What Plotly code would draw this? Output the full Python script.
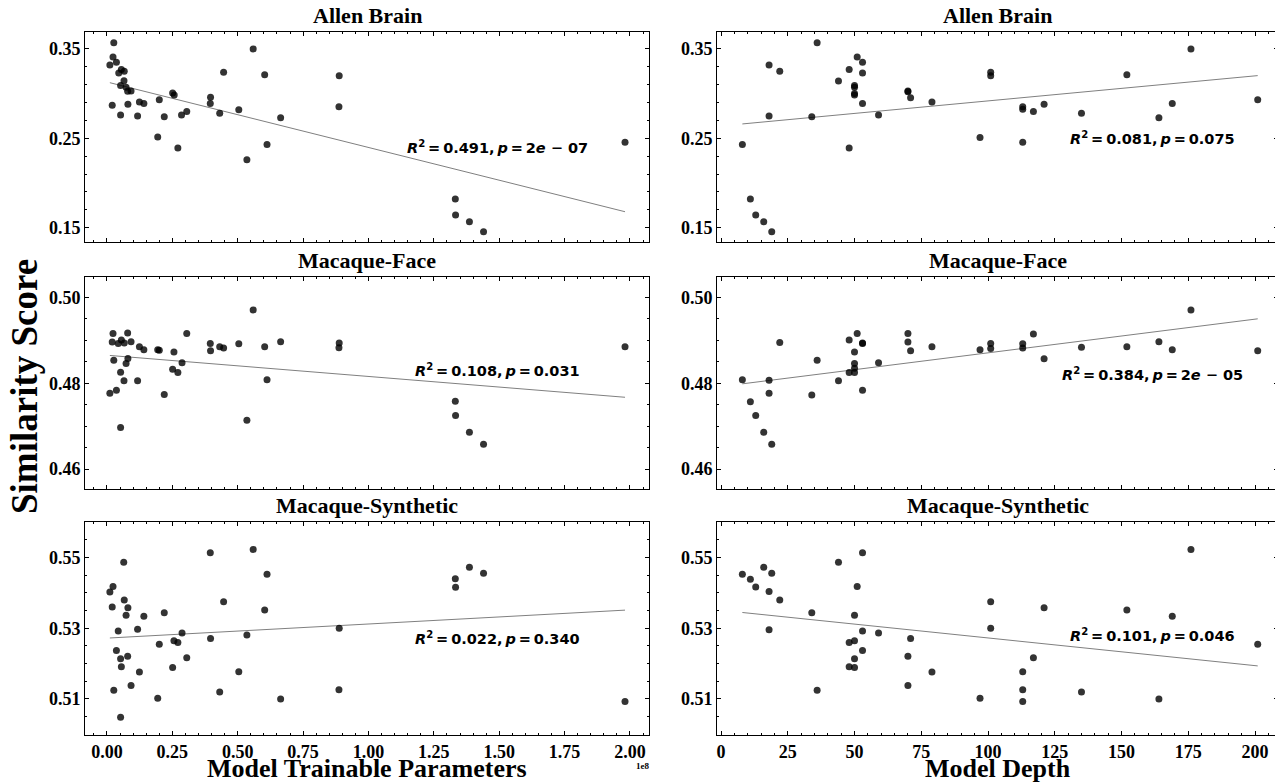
import numpy as np
import plotly.graph_objects as go

# ---------------- data ----------------
panel_titles = ["Allen Brain", "Allen Brain", "Macaque-Face", "Macaque-Face",
                "Macaque-Synthetic", "Macaque-Synthetic"]

# Model trainable parameters (units of 1e8)
allen_params_x = [0.026, 0.023, 0.011, 0.036, 0.055, 0.066, 0.045, 0.065, 0.052, 0.073, 0.079, 0.092,
                  0.020, 0.052, 0.080, 0.117, 0.124, 0.141, 0.194, 0.200, 0.219, 0.251, 0.257, 0.271,
                  0.285, 0.305, 0.396, 0.395, 0.446, 0.431, 0.504, 0.535, 0.559, 0.603, 0.612, 0.664,
                  0.888, 0.887, 1.332, 1.333, 1.386, 1.440, 1.981]
allen_params_y = [0.357, 0.341, 0.332, 0.335, 0.327, 0.325, 0.323, 0.3145, 0.309, 0.307, 0.3026, 0.303,
                  0.287, 0.276, 0.288, 0.275, 0.2907, 0.2888, 0.2515, 0.293, 0.274, 0.3007, 0.2985, 0.239,
                  0.276, 0.280, 0.296, 0.289, 0.324, 0.278, 0.282, 0.226, 0.350, 0.321, 0.243, 0.273,
                  0.320, 0.2854, 0.182, 0.164, 0.1566, 0.1454, 0.2455]

allen_depth_x = [36, 18, 22, 44, 48, 51, 53, 53, 50, 50, 50, 50, 53, 59, 48, 34, 18, 8, 11, 13, 16, 19,
                 70, 70, 71, 79, 97, 101, 101, 113, 113, 117, 121, 135, 113, 152, 164, 169, 176, 201]
allen_depth_y = [0.357, 0.332, 0.325, 0.314, 0.327, 0.341, 0.335, 0.323, 0.309, 0.307, 0.300, 0.2985,
                 0.289, 0.276, 0.239, 0.274, 0.275, 0.243, 0.182, 0.164, 0.1566, 0.1454, 0.303, 0.302,
                 0.2955, 0.2907, 0.251, 0.324, 0.320, 0.2854, 0.2825, 0.280, 0.288, 0.278, 0.2455,
                 0.321, 0.273, 0.289, 0.350, 0.293]

face_params_x = [0.023, 0.020, 0.026, 0.011, 0.036, 0.043, 0.055, 0.066, 0.079, 0.092, 0.080, 0.073,
                 0.052, 0.065, 0.052, 0.117, 0.124, 0.141, 0.194, 0.200, 0.219, 0.251, 0.256, 0.271,
                 0.287, 0.305, 0.395, 0.396, 0.431, 0.446, 0.504, 0.535, 0.559, 0.603, 0.612, 0.664,
                 0.888, 0.887, 1.332, 1.333, 1.386, 1.440, 1.981]
face_params_y = [0.4916, 0.4896, 0.4854, 0.4777, 0.4784, 0.4893, 0.4901, 0.4894, 0.4917, 0.4897, 0.4858,
                 0.4846, 0.4826, 0.4806, 0.4697, 0.4806, 0.4885, 0.4878, 0.4878, 0.4877, 0.4774, 0.4833,
                 0.4873, 0.4825, 0.4848, 0.4916, 0.4893, 0.4876, 0.4885, 0.4882, 0.4892, 0.4714, 0.4971,
                 0.4885, 0.4808, 0.4897, 0.4894, 0.4883, 0.4758, 0.4725, 0.4686, 0.4658, 0.4885]

face_depth_x = [8, 11, 13, 16, 19, 18, 18, 22, 34, 36, 44, 48, 48, 50, 50, 50, 50, 51, 53, 53, 53, 59,
                70, 70, 71, 79, 97, 101, 101, 113, 113, 117, 121, 135, 152, 164, 169, 176, 201]
face_depth_y = [0.4808, 0.4757, 0.4725, 0.4686, 0.4658, 0.4807, 0.4777, 0.4895, 0.4773, 0.4854, 0.4806,
                0.4901, 0.4825, 0.4825, 0.4835, 0.4846, 0.4873, 0.4916, 0.4894, 0.4893, 0.4784, 0.4848,
                0.4916, 0.4896, 0.4876, 0.4885, 0.4878, 0.4893, 0.4881, 0.4892, 0.4882, 0.4915, 0.4857,
                0.4884, 0.4885, 0.4897, 0.4878, 0.4971, 0.4876]

synth_params_x = [0.011, 0.023, 0.020, 0.064, 0.066, 0.080, 0.073, 0.141, 0.043, 0.117, 0.036, 0.052,
                  0.079, 0.055, 0.026, 0.092, 0.052, 0.124, 0.194, 0.200, 0.219, 0.251, 0.256, 0.271,
                  0.287, 0.305, 0.395, 0.396, 0.431, 0.446, 0.504, 0.535, 0.559, 0.603, 0.612, 0.664,
                  0.888, 0.887, 1.332, 1.333, 1.386, 1.440, 1.981]
synth_params_y = [0.5403, 0.5418, 0.5360, 0.5487, 0.5380, 0.5358, 0.5337, 0.5334, 0.5292, 0.5297, 0.5237,
                  0.5214, 0.5221, 0.5191, 0.5125, 0.5138, 0.5048, 0.5176, 0.5102, 0.5255, 0.5344, 0.5189,
                  0.5265, 0.5260, 0.5287, 0.5217, 0.5514, 0.5271, 0.5120, 0.5375, 0.5177, 0.5281, 0.5523,
                  0.5352, 0.5453, 0.5100, 0.5300, 0.5126, 0.5440, 0.5416, 0.5473, 0.5456, 0.5093]

synth_depth_x = [8, 11, 13, 16, 19, 18, 18, 22, 34, 36, 44, 48, 48, 50, 50, 50, 50, 51, 53, 53, 53, 59,
                 70, 70, 71, 79, 97, 101, 101, 113, 113, 113, 117, 121, 135, 152, 164, 169, 176, 201]
synth_depth_y = [0.5453, 0.5439, 0.5417, 0.5473, 0.5456, 0.5404, 0.5296, 0.5380, 0.5344, 0.5125, 0.5487,
                 0.5260, 0.5191, 0.5337, 0.5265, 0.5214, 0.5189, 0.5418, 0.5514, 0.5292, 0.5237, 0.5287,
                 0.5221, 0.5138, 0.5271, 0.5176, 0.5102, 0.5375, 0.5300, 0.5177, 0.5126, 0.5093, 0.5217,
                 0.5358, 0.5120, 0.5352, 0.5100, 0.5334, 0.5523, 0.5255]

stat_r2 = ["0.491", "0.081", "0.108", "0.384", "0.022", "0.101"]
stat_p = ["2e − 07", "0.075", "0.031", "2e − 05", "0.340", "0.046"]

params_ticks = [0.0, 0.25, 0.5, 0.75, 1.0, 1.25, 1.5, 1.75, 2.0]
depth_ticks = [0, 25, 50, 75, 100, 125, 150, 175, 200]

# ---------------- figure ----------------
panels = [
    (allen_params_x, allen_params_y), (allen_depth_x, allen_depth_y),
    (face_params_x, face_params_y), (face_depth_x, face_depth_y),
    (synth_params_x, synth_params_y), (synth_depth_x, synth_depth_y),
]

OFF = 8  # page body margin
W, H = 1283 - OFF, 784 - OFF


def px(v):
    return (v - OFF) / W


def py(v):
    return 1 - (v - OFF) / H


col_px = [(85, 649), (717, 1278)]
row_px = [(32, 241.6), (276.7, 489), (522.3, 735)]
y_ranges = [(0.1343, 0.369), (0.45536, 0.50485), (0.49981, 0.55999)]
y_major = [(0.15, 0.1, 0.02), (0.46, 0.02, 0.005), (0.51, 0.02, 0.005)]
x_ranges = [(-0.0841, 2.0727), (-1.5, 208.6)]
x_minor = [0.05, 5]
stat_pos = [(0.732, 0.453), (0.777, 0.493), (0.732, 0.56), (0.777, 0.54), (0.732, 0.455), (0.777, 0.47)]

serif = "Liberation Serif"
fig = go.Figure()
layout = dict(width=W, height=H, margin=dict(l=0, r=0, t=0, b=0, autoexpand=False),
              paper_bgcolor="white", plot_bgcolor="white", showlegend=False)
annotations = []

for i, (xs, ys) in enumerate(panels):
    r, c = divmod(i, 2)
    n = i + 1
    xname = "x" if n == 1 else f"x{n}"
    yname = "y" if n == 1 else f"y{n}"
    fig.add_trace(go.Scatter(x=xs, y=ys, mode="markers", xaxis=xname, yaxis=yname,
                             marker=dict(size=7, color="rgba(0,0,0,0.8)", line=dict(width=0))))
    xa = np.array(xs, dtype=float)
    ya = np.array(ys, dtype=float)
    slope, icpt = np.polyfit(xa, ya, 1)
    xl = np.array([xa.min(), xa.max()])
    fig.add_trace(go.Scatter(x=xl, y=slope * xl + icpt, mode="lines", xaxis=xname, yaxis=yname,
                             line=dict(color="rgba(0,0,0,0.5)", width=1)))

    x0p, x1p = col_px[c]
    y0p, y1p = row_px[r]
    tick_font = dict(family=serif, size=18, color="black", weight="bold")
    xax = dict(domain=[px(x0p), px(x1p)], range=list(x_ranges[c]), anchor=yname, automargin=False,
               showgrid=False, zeroline=False, showline=True, linecolor="black", linewidth=1,
               mirror="allticks", ticks="inside", ticklen=4, tickcolor="black",
               minor=dict(ticks="inside", ticklen=2, tickcolor="black", dtick=x_minor[c], showgrid=False),
               tickmode="array", tickvals=params_ticks if c == 0 else depth_ticks,
               ticktext=[f"{v:.2f}" for v in params_ticks] if c == 0 else [str(v) for v in depth_ticks],
               showticklabels=(r == 2), tickfont=tick_font)
    if c == 0:
        xax["minor"]["tick0"] = 0
    t0, dt, mdt = y_major[r]
    yax = dict(domain=[py(y1p), py(y0p)], range=list(y_ranges[r]), anchor=xname, automargin=False,
               showgrid=False, zeroline=False, showline=True, linecolor="black", linewidth=1,
               mirror="allticks", ticks="inside", ticklen=4, tickcolor="black",
               tickmode="linear", tick0=t0, dtick=dt, tickformat=".2f",
               minor=dict(ticks="inside", ticklen=2, tickcolor="black", dtick=mdt, tick0=t0, showgrid=False),
               tickfont=tick_font)
    layout["xaxis" if n == 1 else f"xaxis{n}"] = xax
    layout["yaxis" if n == 1 else f"yaxis{n}"] = yax

    # panel title
    annotations.append(dict(text=f"<b>{panel_titles[i]}</b>", x=px((x0p + x1p) / 2), y=py(y0p - 2),
                            xref="paper", yref="paper", xanchor="center", yanchor="bottom", showarrow=False,
                            font=dict(family=serif, size=22, color="black")))
    # stats text
    sx, sy = stat_pos[i]
    ptxt = stat_p[i].replace("e", "<i>e</i>")
    annotations.append(dict(text=f"<b><i>R</i><sup>2</sup>\u2009=\u2009{stat_r2[i]},\u2009<i>p</i>\u2009=\u2009{ptxt}</b>",
                            x=sx, y=sy, xref=f"{xname} domain", yref=f"{yname} domain",
                            xanchor="center", yanchor="middle", showarrow=False,
                            font=dict(family="DejaVu Sans", size=14.5, color="black")))

# axis titles
annotations.append(dict(text="<b>Model Trainable Parameters</b>", x=px(367), y=py(768), xref="paper",
                        yref="paper", xanchor="center", yanchor="middle", showarrow=False,
                        font=dict(family=serif, size=26, color="black")))
annotations.append(dict(text="<b>Model Depth</b>", x=px(997.5), y=py(768), xref="paper",
                        yref="paper", xanchor="center", yanchor="middle", showarrow=False,
                        font=dict(family=serif, size=26, color="black")))
annotations.append(dict(text="<b>Similarity Score</b>", x=px(24), y=py(387), xref="paper",
                        yref="paper", xanchor="center", yanchor="middle", showarrow=False, textangle=-90,
                        font=dict(family=serif, size=37, color="black")))
annotations.append(dict(text="<b>1e8</b>", x=px(651), y=py(766), xref="paper",
                        yref="paper", xanchor="right", yanchor="middle", showarrow=False,
                        font=dict(family=serif, size=9, color="black")))

layout["annotations"] = annotations
fig.update_layout(**layout)
fig.write_html("out.html")
